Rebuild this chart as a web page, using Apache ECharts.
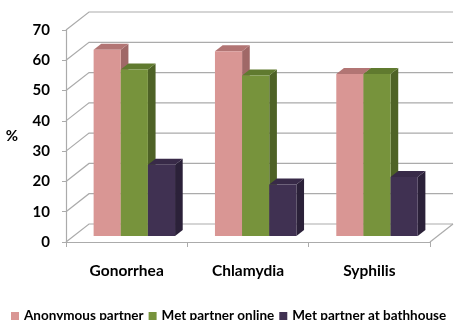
<!DOCTYPE html>
<html><head><meta charset="utf-8">
<script src="https://cdn.jsdelivr.net/npm/echarts/dist/echarts.min.js"></script>
<style>html,body{margin:0;padding:0;background:#fff}#c{width:456px;height:320px}</style>
</head><body><div id="c"></div>
<script>
const categories = ['Gonorrhea', 'Chlamydia', 'Syphilis'];
const seriesNames = ['Anonymous partner', 'Met partner online', 'Met partner at bathhouse'];
const anonymousPartner = [61.5, 61, 53.5];
const metOnline = [55, 53, 53.5];
const metBathhouse = [23.5, 17, 19.5];
const yTicks = [0, 10, 20, 30, 40, 50, 60, 70];

const DX = 23, DY = -18;
const FONT = 'Lato, "Open Sans", sans-serif';
const GRIDC = '#ABABAB';
const palette = [
  { front: '#D99694', top: '#B27574', side: '#A06867' },
  { front: '#77933C', top: '#607A2F', side: '#4E6226' },
  { front: '#403152', top: '#382A48', side: '#2B2139' }
];
const valuesList = [anonymousPartner, metOnline, metBathhouse];

function barRenderer(sIdx, col) {
  return function (params, api) {
    const i = api.value(0), v = api.value(1);
    const topPt = api.coord([i, v]);
    const basePt = api.coord([i, 0]);
    const band = api.size([1, 0])[0];
    const bw = band * 0.2237;
    const ox = DX / 3, oy = DY / 3;
    const xl = topPt[0] - 1.5 * bw + sIdx * bw + ox;
    const xr = xl + bw;
    const yt = topPt[1] + oy, yb = basePt[1] + oy;
    const bdx = DX / 3, bdy = DY / 3;
    return { type: 'group', children: [
      { type: 'polygon', shape: { points: [[xr, yt], [xr + bdx, yt + bdy], [xr + bdx, yb + bdy], [xr, yb]] }, style: { fill: col.side } },
      { type: 'polygon', shape: { points: [[xl, yt], [xl + bdx, yt + bdy], [xr + bdx, yt + bdy], [xr, yt]] }, style: { fill: col.top } },
      { type: 'rect', shape: { x: xl, y: yt, width: bw, height: yb - yt }, style: { fill: col.front } }
    ]};
  };
}

function wallRenderer(params, api) {
  const cs = params.coordSys;
  const x0 = cs.x, x1 = cs.x + cs.width;
  const v = api.value(1);
  const y = api.coord([0, v])[1];
  const children = [
    { type: 'polyline', shape: { points: [[x0, y], [x0 + DX, y + DY], [x1 + DX, y + DY]] }, style: { stroke: GRIDC, lineWidth: 1.2, fill: null } }
  ];
  if (v === 0) {
    children.push({ type: 'polyline', shape: { points: [[x1, y], [x1 + DX, y + DY]] }, style: { stroke: GRIDC, lineWidth: 1.2, fill: null } });
  }
  return { type: 'group', children };
}

const series = [{
  type: 'custom', name: 'wall', z: 1, silent: true,
  renderItem: wallRenderer,
  data: yTicks.map(v => [0, v]),
  encode: { x: 0, y: 1 }
}];
seriesNames.forEach((n, s) => {
  series.push({
    type: 'custom', name: n, z: 2 + s,
    itemStyle: { color: palette[s].front },
    renderItem: barRenderer(s, palette[s]),
    data: categories.map((c, i) => [i, valuesList[s][i]]),
    encode: { x: 0, y: 1 }
  });
});

const chart = echarts.init(document.getElementById('c'), null, { renderer: 'canvas' });
chart.setOption({
  animation: false,
  backgroundColor: '#fff',
  textStyle: { fontFamily: FONT },
  grid: { left: 66, right: 26, top: 30, bottom: 78, outerBoundsMode: 'none' },
  xAxis: {
    type: 'category', data: categories, boundaryGap: true,
    axisLine: { lineStyle: { color: GRIDC, width: 1.2 } },
    axisTick: { show: true, length: 5, lineStyle: { color: GRIDC } },
    axisLabel: { margin: 21, color: '#000', fontWeight: 'bold', fontSize: 15.5, fontFamily: FONT },
    splitLine: { show: false }
  },
  yAxis: {
    type: 'value', min: 0, max: 70, interval: 10,
    name: '%', nameLocation: 'middle', nameRotate: 0, nameGap: 48,
    nameTextStyle: { color: '#000', fontWeight: 'bold', fontSize: 15, fontFamily: FONT },
    axisLine: { show: true, lineStyle: { color: GRIDC, width: 1.2 } },
    axisTick: { show: true, length: 4, lineStyle: { color: GRIDC } },
    axisLabel: { margin: 16, color: '#000', fontWeight: 'bold', fontSize: 15, fontFamily: FONT },
    splitLine: { show: false }
  },
  legend: {
    data: seriesNames, left: 11, top: 309, width: 600, orient: 'horizontal', padding: 0,
    icon: 'rect', itemWidth: 8, itemHeight: 8, itemGap: 5,
    textStyle: { color: '#000', fontWeight: 'bold', fontSize: 13.5, fontFamily: FONT }
  },
  series
});
</script>
</body></html>
